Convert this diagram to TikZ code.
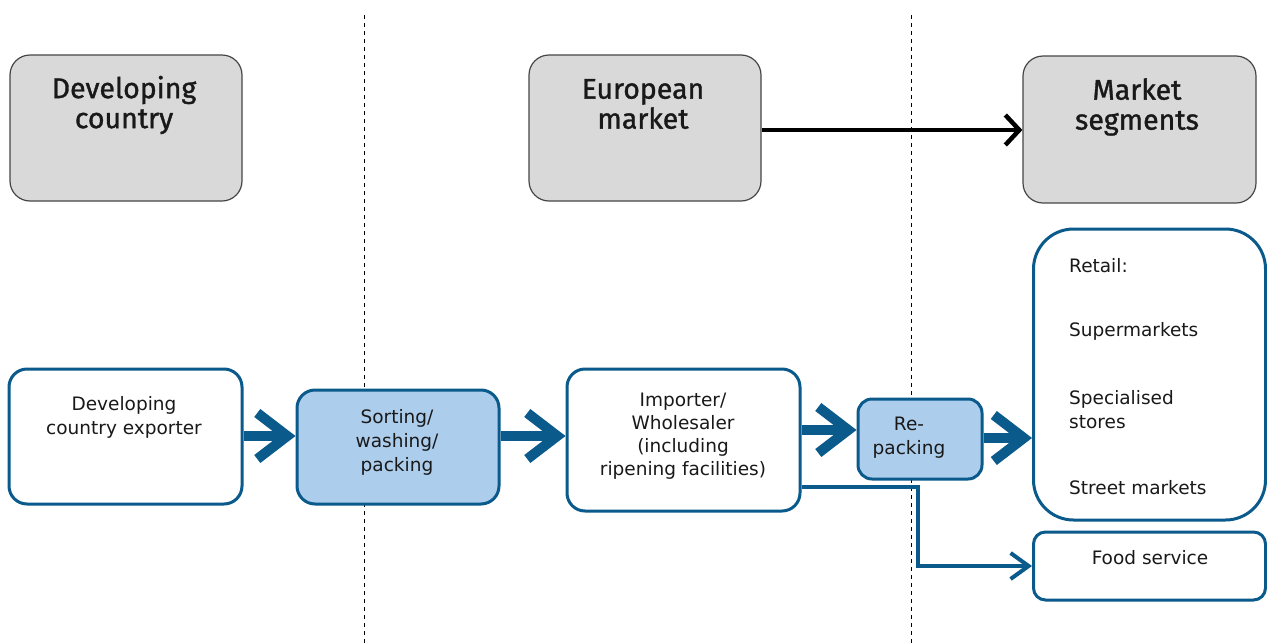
\documentclass[tikz,border=0pt]{standalone}
\usepackage{fontspec}
\setmainfont{DejaVu Sans}
\newfontfamily\hdrfont[FakeBold=1.2]{Fira Sans}
\usetikzlibrary{arrows.meta}
\definecolor{bord}{RGB}{10,90,140}
\definecolor{lfill}{RGB}{173,205,236}
\definecolor{gfill}{RGB}{217,217,217}
\definecolor{gbord}{RGB}{70,70,70}
\begin{document}
\begin{tikzpicture}[x=1pt,y=-1pt,
 hdrbox/.style={draw=gbord, fill=gfill, line width=1.2pt, rounded corners=20pt, inner sep=0pt},
 bluebox/.style={draw=bord, fill=white, line width=3pt, rounded corners=18pt, inner sep=0pt},
 fillbox/.style={bluebox, fill=lfill},
 hdrtxt/.style={font=\hdrfont\fontsize{28.5}{30}\selectfont, align=center, inner sep=0pt, text=black!90},
 txt/.style={font=\fontsize{18.5}{24}\selectfont, align=center, inner sep=0pt, text=black!90},
 lefttxt/.style={txt, anchor=west, align=left},
 bigarrow/.style={draw=bord, line width=10pt, -{Straight Barb[length=30pt,width=46pt,line width=10pt]}},
 blackarrow/.style={draw=black, line width=4.5pt, -{Straight Barb[length=14pt,width=30pt,line width=4.5pt]}},
 elbowarrow/.style={draw=bord, line width=4pt, -{Straight Barb[length=18pt,width=26pt,line width=4pt]}},
 divider/.style={draw=black, line width=0.9pt, dash pattern=on 4pt off 4pt}
]
\path[use as bounding box, fill=white] (0,0) rectangle (1267,643);

% dividers
\coordinate (d1t) at (364,15);
\coordinate (d1b) at (364,643);
\coordinate (d2t) at (911,15);
\coordinate (d2b) at (911,643);
\draw[divider] (d1t) -- (d1b);
\draw[divider] (d2t) -- (d2b);

% header boxes
\node[hdrbox, minimum width=232pt, minimum height=146pt] (h1) at (126,128) {};
\node[hdrbox, minimum width=232pt, minimum height=146pt] (h2) at (645,128) {};
\node[hdrbox, minimum width=233pt, minimum height=147pt] (h3) at (1139.5,129.5) {};
\node[hdrtxt] (h1t) at (124,105) {Developing\\country};
\node[hdrtxt] (h2t) at (643,104) {European\\market};
\node[hdrtxt] (h3t) at (1137,107) {Market\\segments};

\draw[blackarrow] (h2.east |- 0,130) -- (h3.west |- 0,130);

% flow boxes
\node[bluebox, minimum width=233pt, minimum height=135pt] (exp) at (125.5,436.5) {};
\node[fillbox, minimum width=202pt, minimum height=114pt] (sort) at (398,447) {};
\node[bluebox, minimum width=233pt, minimum height=142pt] (imp) at (683.5,440) {};
\node[fillbox, minimum width=124pt, minimum height=80pt, rounded corners=14pt] (rep) at (920,439) {};
\node[bluebox, minimum width=232pt, minimum height=291pt, rounded corners=40pt] (ret) at (1149.5,374.5) {};
\node[bluebox, minimum width=232pt, minimum height=68pt, rounded corners=12pt] (food) at (1149.5,566) {};

\node[txt] (expt) at (124,417) {Developing\\country exporter};
\node[txt] (sortt) at (397,442) {Sorting/\\washing/\\packing};
\node[txt, font=\fontsize{18.5}{23}\selectfont] (impt) at (683,436) {Importer/\\Wholesaler\\(including\\ripening facilities)};
\node[txt] (rept) at (909,438) {Re-\\packing};
\node[lefttxt] (r1) at (1069,266) {Retail:};
\node[lefttxt] (r2) at (1069,331) {Supermarkets};
\node[lefttxt] (r3) at (1069,410) {Specialised\\stores};
\node[lefttxt] (r4) at (1069,488) {Street markets};
\node[txt] (foodt) at (1150,558) {Food service};

% arrows
\draw[bigarrow] (exp.east |- 0,436) -- (sort.west |- 0,436);
\draw[bigarrow] (sort.east |- 0,436) -- (imp.west |- 0,436);
\draw[bigarrow] (imp.east |- 0,430) -- (rep.west |- 0,430);
\draw[bigarrow] (rep.east |- 0,438) -- (ret.west |- 0,438);
\coordinate (bend1) at (918,487);
\coordinate (bend2) at (918,566);
\draw[elbowarrow] (imp.east |- bend1) -- (bend1) -- (bend2) -- (food.west);
\end{tikzpicture}
\end{document}
